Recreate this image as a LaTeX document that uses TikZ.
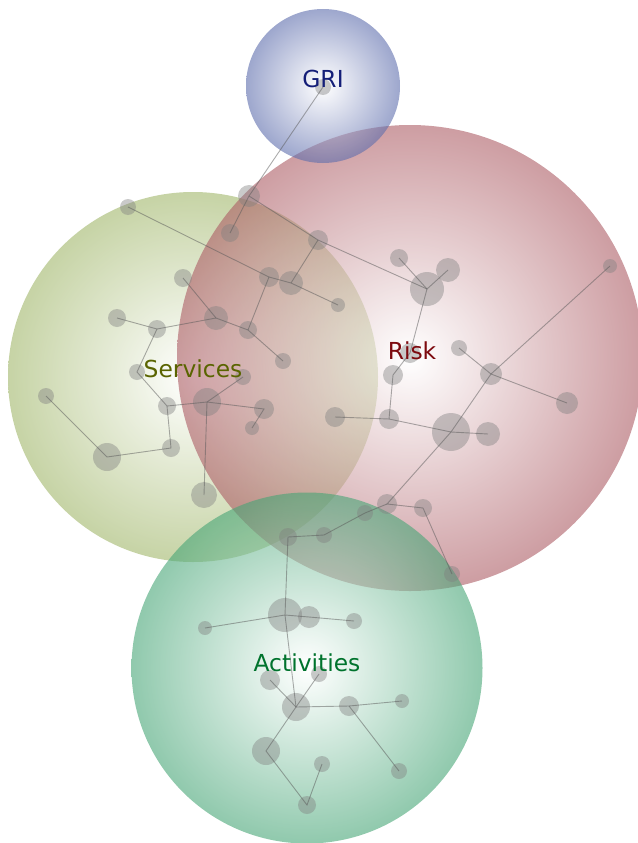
\documentclass[tikz,border=0pt]{standalone}
\usepackage{fontspec}
\setsansfont{DejaVu Sans}
\usetikzlibrary{positioning}

\definecolor{grishade}{RGB}{92,108,172}
\definecolor{riskshade}{RGB}{172,92,100}
\definecolor{svcshade}{RGB}{160,182,105}
\definecolor{actshade}{RGB}{70,165,118}
\definecolor{gritext}{RGB}{20,30,120}
\definecolor{risktext}{RGB}{125,10,15}
\definecolor{svctext}{RGB}{90,100,0}
\definecolor{acttext}{RGB}{0,115,45}

\begin{document}
\begin{tikzpicture}[
  x=1pt, y=-1pt,
  region/.style={
    circle, inner sep=0pt, outer sep=0pt,
    shading=radial, inner color=white,
    fill opacity=0.6, draw=none
  },
  blob/.style={
    circle, inner sep=0pt, outer sep=0pt,
    fill=black!50, fill opacity=0.42,
    minimum size=#1
  },
  link/.style={draw=black!65, draw opacity=0.5, line width=0.9pt},
  lbl/.style={anchor=base, font=\sffamily\fontsize{23.4}{28}\selectfont}
]
  \useasboundingbox (0,0) rectangle (637,843);

  \node[region, outer color=svcshade, minimum size=370pt] (services) at (193,377) {};
  \node[region, outer color=riskshade, minimum size=466pt] (risk) at (410,358) {};
  \node[region, outer color=grishade, minimum size=154pt] (gri) at (323,86) {};
  \node[region, outer color=actshade, minimum size=351pt] (activities) at (307,668) {};

  \node[blob=16pt] (g1) at (323,87) {};

  \node[blob=16pt] (s1) at (128,207) {};
  \node[blob=22pt] (s2) at (249,196) {};
  \node[blob=18pt] (s3) at (230,233) {};
  \node[blob=18pt] (s4) at (183,278) {};
  \node[blob=20pt] (s5) at (269,277) {};
  \node[blob=24pt] (s6) at (291,283) {};
  \node[blob=14pt] (s7) at (338,305) {};
  \node[blob=20pt] (s8) at (318,240) {};
  \node[blob=18pt] (s9) at (117,318) {};
  \node[blob=18pt] (s10) at (157,329) {};
  \node[blob=24pt] (s11) at (216,318) {};
  \node[blob=18pt] (s12) at (248,330) {};
  \node[blob=16pt] (s13) at (283,361) {};
  \node[blob=16pt] (s14) at (137,372) {};
  \node[blob=16pt] (s15) at (243,377) {};
  \node[blob=16pt] (s16) at (46,396) {};
  \node[blob=18pt] (s17) at (167,406) {};
  \node[blob=28pt] (s18) at (207,402) {};
  \node[blob=20pt] (s19) at (264,409) {};
  \node[blob=14pt] (s20) at (252,428) {};
  \node[blob=28pt] (s21) at (107,457) {};
  \node[blob=18pt] (s22) at (171,448) {};
  \node[blob=26pt] (s23) at (204,495) {};

  \node[blob=18pt] (r1) at (399,258) {};
  \node[blob=24pt] (r2) at (448,270) {};
  \node[blob=34pt] (r3) at (427,289) {};
  \node[blob=20pt] (r4) at (410,353) {};
  \node[blob=20pt] (r5) at (393,375) {};
  \node[blob=16pt] (r6) at (459,348) {};
  \node[blob=22pt] (r7) at (491,374) {};
  \node[blob=14pt] (r8) at (610,266) {};
  \node[blob=22pt] (r9) at (567,403) {};
  \node[blob=20pt] (r10) at (335,417) {};
  \node[blob=20pt] (r11) at (389,419) {};
  \node[blob=38pt] (r12) at (451,432) {};
  \node[blob=24pt] (r13) at (488,434) {};
  \node[blob=20pt] (r14) at (387,504) {};
  \node[blob=18pt] (r15) at (423,508) {};
  \node[blob=16pt] (r16) at (452,574) {};

  \node[blob=18pt] (a1) at (288,537) {};
  \node[blob=16pt] (a2) at (324,535) {};
  \node[blob=16pt] (a3) at (365,513) {};
  \node[blob=34pt] (a4) at (285,615) {};
  \node[blob=22pt] (a5) at (309,617) {};
  \node[blob=14pt] (a6) at (205,628) {};
  \node[blob=16pt] (a7) at (354,621) {};
  \node[blob=20pt] (a8) at (270,680) {};
  \node[blob=16pt] (a9) at (319,674) {};
  \node[blob=28pt] (a10) at (296,707) {};
  \node[blob=20pt] (a11) at (349,706) {};
  \node[blob=14pt] (a12) at (402,701) {};
  \node[blob=28pt] (a13) at (266,751) {};
  \node[blob=16pt] (a14) at (322,764) {};
  \node[blob=16pt] (a15) at (399,771) {};
  \node[blob=18pt] (a16) at (307,805) {};

  \draw[link] (g1.center) -- (s2.center) -- (s3.center);
  \draw[link] (s1.center) -- (s5.center) -- (s6.center) -- (s7.center);
  \draw[link] (s5.center) -- (s12.center);
  \draw[link] (s6.center) -- (s8.center);
  \draw[link] (s2.center) -- (s8.center) -- (r3.center);
  \draw[link] (s4.center) -- (s11.center) -- (s12.center) -- (s13.center);
  \draw[link] (s9.center) -- (s10.center) -- (s11.center);
  \draw[link] (s10.center) -- (s14.center) -- (s17.center) -- (s18.center) -- (s15.center);
  \draw[link] (s18.center) -- (s19.center) -- (s20.center);
  \draw[link] (s18.center) -- (s23.center);
  \draw[link] (s17.center) -- (s22.center) -- (s21.center) -- (s16.center);

  \draw[link] (r1.center) -- (r3.center) -- (r2.center);
  \draw[link] (r3.center) -- (r4.center) -- (r5.center) -- (r11.center) -- (r12.center) -- (r13.center);
  \draw[link] (r10.center) -- (r11.center);
  \draw[link] (r6.center) -- (r7.center) -- (r9.center);
  \draw[link] (r8.center) -- (r7.center) -- (r12.center) -- (r14.center) -- (r15.center) -- (r16.center);

  \draw[link] (r14.center) -- (a3.center) -- (a2.center) -- (a1.center) -- (a4.center) -- (a10.center);
  \draw[link] (a6.center) -- (a4.center) -- (a5.center) -- (a7.center);
  \draw[link] (a8.center) -- (a10.center) -- (a9.center);
  \draw[link] (a10.center) -- (a11.center) -- (a12.center);
  \draw[link] (a11.center) -- (a15.center);
  \draw[link] (a10.center) -- (a13.center) -- (a16.center) -- (a14.center);

  \node[lbl, text=gritext] (gri label) at ([yshift=-1pt]gri.center) {GRI};
  \node[lbl, text=risktext] (risk label) at ([yshift=-1pt, xshift=2pt]risk.center) {Risk};
  \node[lbl, text=svctext] (services label) at (services.center) {Services};
  \node[lbl, text=acttext] (activities label) at ([yshift=-3pt]activities.center) {Activities};
\end{tikzpicture}
\end{document}
